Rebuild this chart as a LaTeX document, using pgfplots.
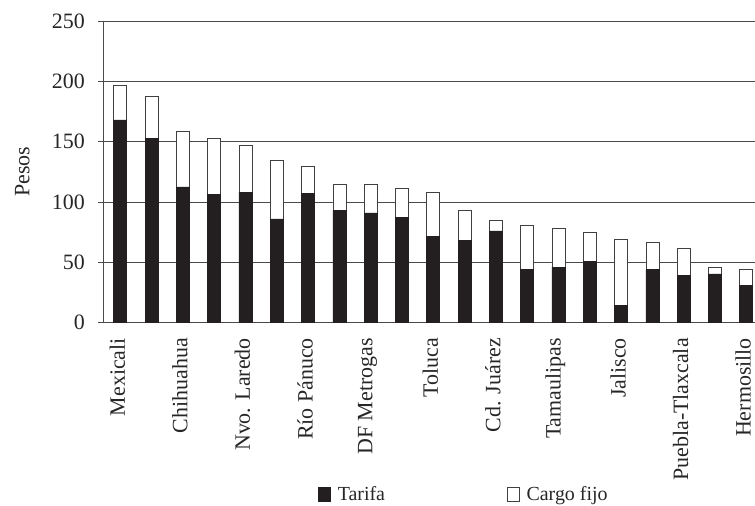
\documentclass[border=0pt]{standalone}
\usepackage{fontspec}
\setmainfont{Liberation Serif}
\usepackage{pgfplots}
\pgfplotsset{compat=1.18}
\definecolor{barblack}{HTML}{231F20}
\definecolor{gridgray}{HTML}{4A4A4A}
\begin{document}
\begin{tikzpicture}
\begin{axis}[
  scale only axis,
  width=651.7bp, height=301.7bp,
  xmin=-0.543, xmax=20.28,
  ymin=0, ymax=250,
  ytick={0,50,...,250},
  xtick={0,2,...,20},
  xticklabels={Mexicali,Chihuahua,Nvo. Laredo,Río Pánuco,DF Metrogas,Toluca,Cd. Juárez,Tamaulipas,Jalisco,Puebla-Tlaxcala,Hermosillo},
  axis lines*=left,
  axis line style={draw=gridgray, line width=0.8pt},
  ymajorgrids,
  grid style={draw=gridgray, line width=0.8pt},
  tick align=outside,
  major tick length=5bp,
  ytick style={draw=gridgray, line width=0.8pt},
  xtick style={draw=none},
  /pgf/number format/assume math mode=true,
  ticklabel style={font=\fontsize{22}{24}\selectfont, text=black!85},
  yticklabel style={xshift=-10bp},
  xticklabel style={rotate=90, anchor=east, xshift=-7bp, yshift=3bp},
  ylabel={Pesos},
  every axis y label/.style={at={(axis description cs:-0.1243,0.5)}, rotate=90, anchor=center, font=\fontsize{22}{24}\selectfont, text=black!85},
  ybar stacked,
  bar width=13bp,
  legend columns=2,
  legend style={draw=none, fill=none, at={(0.3294,-0.568)}, anchor=west, xshift=-3bp,
     font=\fontsize{20}{22}\selectfont, text=black!85,
     /tikz/every odd column/.append style={column sep=5bp},
     /tikz/every even column/.append style={column sep=120bp}},
  legend image code/.code={\draw[#1] (0bp,-7bp) rectangle (12bp,7bp);},
]
\addplot[fill=barblack, draw=barblack, line width=0.6pt] coordinates {
(0,168) (1,152.5) (2,112.5) (3,106) (4,108) (5,86) (6,107) (7,93) (8,91) (9,87)
(10,71.5) (11,68.5) (12,76) (13,44) (14,46) (15,51) (16,14.4) (17,44) (18,39.5) (19,40.4) (20,30.7)};
\addlegendentry{Tarifa}
\addplot[fill=white, draw=black!75, line width=0.6pt] coordinates {
(0,29) (1,35) (2,46.5) (3,47) (4,39) (5,48.5) (6,22.6) (7,22) (8,23.6) (9,24)
(10,36.2) (11,24.3) (12,9) (13,37) (14,32.5) (15,24) (16,54.6) (17,22.3) (18,22.5) (19,5.2) (20,13.5)};
\addlegendentry{Cargo fijo}
\end{axis}
\pgfresetboundingbox
\path[use as bounding box] (-103.3bp,-183.3bp) rectangle (651.7bp,322.7bp);
\end{tikzpicture}
\end{document}
